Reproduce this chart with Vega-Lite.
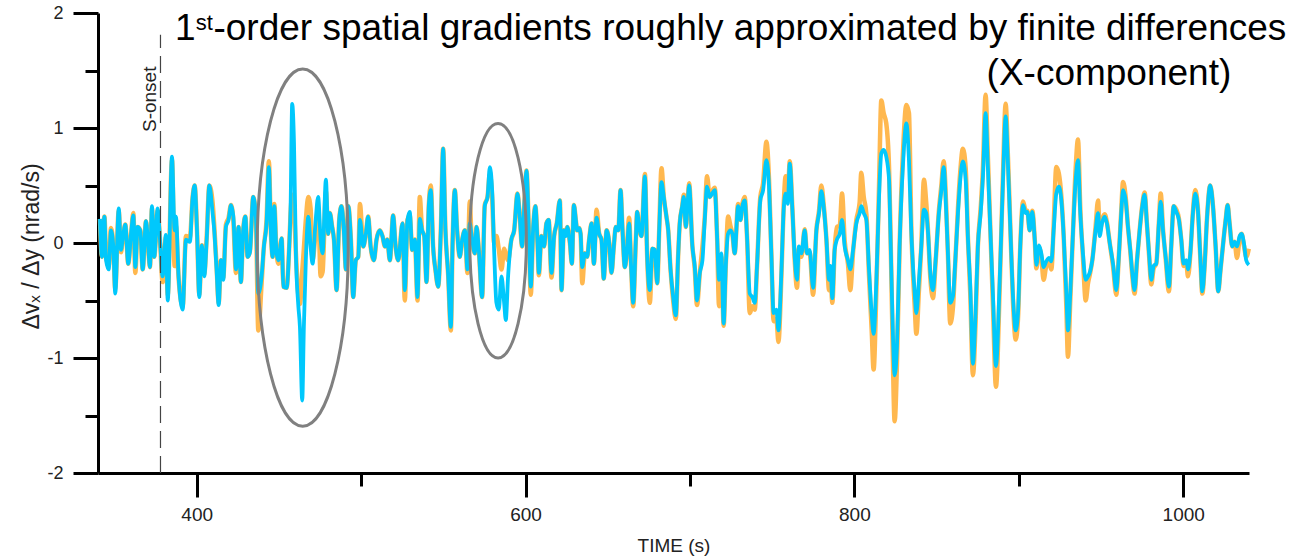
{
  "$schema": "https://vega.github.io/schema/vega-lite/v6.json",
  "width": 1151,
  "height": 460,
  "autosize": {"type": "none"},
  "padding": {"left": 98, "top": 13, "right": 62, "bottom": 84},
  "background": "white",
  "config": {"view": {"stroke": null}, "font": "Liberation Sans", "axis": {"grid": false}},
  "resolve": {"axis": {"x": "independent", "y": "independent"}},
  "datasets": {
    "signal": [
      {"t":341.2,"orange":0.21,"blue":0.21},{"t":342.4,"orange":-0.12,"blue":-0.12},{"t":343.9,"orange":0.23,"blue":0.23},{"t":344.9,"orange":-0.10,"blue":-0.15},{"t":346.5,"orange":-0.20,"blue":-0.23},{"t":347.9,"orange":0.13,"blue":0.11},{"t":349.3,"orange":-0.03,"blue":-0.03},{"t":350.5,"orange":-0.40,"blue":-0.44},{"t":352.6,"orange":0.28,"blue":0.30},{"t":354.0,"orange":-0.08,"blue":-0.06},{"t":355.0,"orange":0.03,"blue":0.03},{"t":356.6,"orange":0.16,"blue":0.16},{"t":358.4,"orange":-0.18,"blue":-0.18},{"t":360.1,"orange":0.08,"blue":0.08},{"t":361.5,"orange":0.26,"blue":0.24},{"t":362.7,"orange":-0.26,"blue":-0.21},{"t":364.1,"orange":0.14,"blue":0.14},{"t":365.7,"orange":0.11,"blue":0.11},{"t":367.2,"orange":-0.23,"blue":-0.23},{"t":369.2,"orange":0.19,"blue":0.19},{"t":370.4,"orange":0.0,"blue":0.0},{"t":371.6,"orange":-0.21,"blue":-0.21},{"t":372.8,"orange":0.30,"blue":0.32},{"t":374.2,"orange":-0.12,"blue":-0.12},{"t":376.3,"orange":0.28,"blue":0.30},{"t":377.7,"orange":0.03,"blue":0.03},{"t":379.3,"orange":-0.34,"blue":-0.29},{"t":381.3,"orange":0.05,"blue":0.07},{"t":382.4,"orange":-0.45,"blue":-0.50},{"t":385.0,"orange":0.72,"blue":0.75},{"t":386.6,"orange":-0.20,"blue":0.11},{"t":387.4,"orange":0.15,"blue":0.23},{"t":389.0,"orange":-0.30,"blue":-0.29},{"t":391.5,"orange":-0.55,"blue":-0.58},{"t":393.5,"orange":0.06,"blue":0.03},{"t":395.9,"orange":0.05,"blue":0.01},{"t":397.5,"orange":0.39,"blue":0.39},{"t":398.8,"orange":0.50,"blue":0.50},{"t":400.2,"orange":0.11,"blue":0.11},{"t":401.6,"orange":-0.45,"blue":-0.47},{"t":403.2,"orange":-0.02,"blue":-0.02},{"t":404.6,"orange":-0.27,"blue":-0.29},{"t":406.1,"orange":0.05,"blue":0.03},{"t":407.7,"orange":0.50,"blue":0.50},{"t":409.7,"orange":0.35,"blue":0.26},{"t":410.7,"orange":0.15,"blue":0.11},{"t":412.1,"orange":-0.20,"blue":-0.23},{"t":413.4,"orange":-0.52,"blue":-0.54},{"t":414.8,"orange":-0.15,"blue":-0.15},{"t":416.2,"orange":-0.30,"blue":-0.32},{"t":417.8,"orange":0.16,"blue":0.14},{"t":419.4,"orange":0.22,"blue":0.20},{"t":420.9,"orange":0.33,"blue":0.33},{"t":422.3,"orange":0.20,"blue":0.23},{"t":423.9,"orange":-0.26,"blue":-0.23},{"t":425.5,"orange":0.14,"blue":0.14},{"t":426.9,"orange":-0.34,"blue":-0.34},{"t":428.3,"orange":0.11,"blue":0.11},{"t":429.6,"orange":0.23,"blue":0.23},{"t":431.0,"orange":-0.12,"blue":-0.12},{"t":432.4,"orange":-0.07,"blue":-0.08},{"t":434.4,"orange":0.40,"blue":0.40},
      {"t":436.0,"orange":0.23,"blue":0.23},{"t":437.5,"orange":-0.76,"blue":-0.44},{"t":439.5,"orange":-0.35,"blue":-0.29},{"t":440.9,"orange":-0.03,"blue":-0.03},{"t":442.5,"orange":0.20,"blue":0.17},{"t":443.9,"orange":0.71,"blue":0.66},{"t":445.2,"orange":0.08,"blue":0.08},{"t":446.2,"orange":-0.12,"blue":-0.12},{"t":447.2,"orange":0.34,"blue":0.32},{"t":448.6,"orange":-0.09,"blue":-0.09},{"t":449.8,"orange":-0.18,"blue":-0.15},{"t":451.7,"orange":0.04,"blue":0.04},{"t":452.7,"orange":-0.38,"blue":-0.38},{"t":454.7,"orange":-0.39,"blue":-0.39},{"t":456.3,"orange":-0.03,"blue":-0.03},{"t":457.1,"orange":0.25,"blue":0.29},{"t":458.1,"orange":0.42,"blue":1.21},{"t":459.2,"orange":0.30,"blue":0.87},{"t":460.4,"orange":-0.10,"blue":-0.12},{"t":461.8,"orange":-0.45,"blue":-0.54},{"t":462.8,"orange":-0.53,"blue":-0.73},{"t":464.2,"orange":-0.25,"blue":-1.37},{"t":465.2,"orange":-0.05,"blue":-0.73},{"t":466.4,"orange":0.20,"blue":-0.15},{"t":467.9,"orange":0.40,"blue":0.23},{"t":469.3,"orange":0.30,"blue":-0.03},{"t":470.5,"orange":-0.15,"blue":-0.18},{"t":472.1,"orange":0.05,"blue":0.14},{"t":473.9,"orange":0.30,"blue":0.40},{"t":475.4,"orange":-0.29,"blue":0.03},{"t":476.6,"orange":-0.25,"blue":-0.09},{"t":478.6,"orange":0.45,"blue":0.55},{"t":480.0,"orange":0.08,"blue":0.08},{"t":481.0,"orange":0.26,"blue":0.26},{"t":482.4,"orange":0.14,"blue":0.14},{"t":483.5,"orange":0.03,"blue":0.03},{"t":485.1,"orange":-0.41,"blue":-0.41},{"t":486.7,"orange":0.20,"blue":0.20},{"t":488.1,"orange":0.32,"blue":0.32},{"t":489.5,"orange":0.11,"blue":0.11},{"t":490.8,"orange":-0.23,"blue":-0.23},{"t":492.2,"orange":0.32,"blue":0.32},{"t":493.8,"orange":0.03,"blue":0.03},{"t":495.2,"orange":-0.47,"blue":-0.47},{"t":496.8,"orange":-0.15,"blue":-0.15},{"t":498.3,"orange":-0.12,"blue":-0.12},{"t":499.3,"orange":0.34,"blue":0.20},{"t":501.3,"orange":-0.03,"blue":-0.03},{"t":502.9,"orange":0.08,"blue":0.08},{"t":504.3,"orange":0.23,"blue":0.23},{"t":505.8,"orange":-0.03,"blue":-0.03},{"t":507.8,"orange":-0.15,"blue":-0.15},{"t":509.4,"orange":0.03,"blue":0.03},{"t":511.4,"orange":0.11,"blue":0.11},{"t":513.0,"orange":0.06,"blue":0.06},{"t":514.5,"orange":-0.03,"blue":-0.03},{"t":515.9,"orange":0.03,"blue":0.03},{"t":517.5,"orange":-0.15,"blue":-0.15},{"t":519.5,"orange":0.24,"blue":0.24},{"t":521.0,"orange":-0.03,"blue":-0.03},{"t":522.6,"orange":-0.15,"blue":-0.15},{"t":525.2,"orange":0.17,"blue":0.17},{"t":526.6,"orange":-0.50,"blue":-0.41},
      {"t":528.2,"orange":0.20,"blue":0.20},{"t":529.6,"orange":0.24,"blue":0.27},{"t":531.1,"orange":-0.06,"blue":-0.06},{"t":532.7,"orange":0.03,"blue":0.03},{"t":534.3,"orange":-0.50,"blue":-0.47},{"t":535.7,"orange":0.40,"blue":0.21},{"t":537.1,"orange":0.11,"blue":0.11},{"t":538.4,"orange":0.06,"blue":0.06},{"t":539.8,"orange":-0.34,"blue":-0.34},{"t":541.2,"orange":0.33,"blue":0.33},{"t":542.4,"orange":0.50,"blue":0.46},{"t":543.8,"orange":-0.03,"blue":-0.03},{"t":545.2,"orange":-0.23,"blue":-0.23},{"t":546.9,"orange":-0.38,"blue":-0.38},{"t":548.5,"orange":0.11,"blue":0.11},{"t":549.9,"orange":0.82,"blue":0.82},{"t":551.3,"orange":0.11,"blue":0.11},{"t":552.9,"orange":-0.26,"blue":-0.26},{"t":554.6,"orange":-0.76,"blue":-0.73},{"t":555.6,"orange":-0.03,"blue":-0.03},{"t":557.0,"orange":0.46,"blue":0.46},{"t":558.4,"orange":0.11,"blue":0.11},{"t":560.0,"orange":-0.12,"blue":-0.12},{"t":561.5,"orange":0.03,"blue":0.03},{"t":563.1,"orange":0.11,"blue":0.11},{"t":564.7,"orange":-0.26,"blue":-0.23},{"t":566.1,"orange":0.36,"blue":0.17},{"t":567.1,"orange":0.08,"blue":0.08},{"t":569.2,"orange":-0.09,"blue":-0.09},{"t":570.2,"orange":0.14,"blue":0.14},{"t":571.6,"orange":-0.06,"blue":-0.06},{"t":573.6,"orange":-0.47,"blue":-0.47},{"t":575.2,"orange":0.33,"blue":0.32},{"t":576.9,"orange":0.40,"blue":0.40},{"t":578.3,"orange":0.60,"blue":0.66},{"t":579.7,"orange":0.40,"blue":0.46},{"t":580.9,"orange":0.0,"blue":-0.06},{"t":582.3,"orange":0.06,"blue":-0.52},{"t":583.7,"orange":-0.05,"blue":-0.58},{"t":585.4,"orange":-0.23,"blue":-0.29},{"t":587.0,"orange":-0.05,"blue":-0.52},{"t":588.0,"orange":-0.10,"blue":-0.67},{"t":589.4,"orange":-0.15,"blue":-0.29},{"t":591.4,"orange":0.03,"blue":0.03},{"t":593.1,"orange":0.11,"blue":0.11},{"t":595.1,"orange":0.43,"blue":0.43},{"t":596.5,"orange":0.23,"blue":0.23},{"t":597.9,"orange":-0.03,"blue":-0.03},{"t":599.5,"orange":0.40,"blue":0.40},{"t":600.6,"orange":0.63,"blue":0.63},{"t":602.0,"orange":0.11,"blue":0.11},{"t":603.2,"orange":-0.45,"blue":-0.38},{"t":604.6,"orange":0.11,"blue":0.11},{"t":606.0,"orange":0.32,"blue":0.32},{"t":607.3,"orange":0.0,"blue":0.0},{"t":608.1,"orange":-0.28,"blue":-0.26},{"t":609.7,"orange":0.06,"blue":0.06},{"t":611.3,"orange":-0.03,"blue":-0.03},{"t":612.7,"orange":0.17,"blue":0.17},{"t":614.1,"orange":0.20,"blue":0.20},{"t":615.8,"orange":-0.30,"blue":-0.26},{"t":617.4,"orange":0.06,"blue":0.06},{"t":619.0,"orange":0.17,"blue":0.17},{"t":620.9,"orange":0.37,"blue":0.37},
      {"t":621.9,"orange":-0.41,"blue":-0.41},{"t":623.3,"orange":0.11,"blue":0.11},{"t":624.5,"orange":0.10,"blue":0.06},{"t":625.4,"orange":0.14,"blue":0.14},{"t":627.0,"orange":0.0,"blue":0.0},{"t":628.2,"orange":-0.18,"blue":-0.18},{"t":629.4,"orange":0.33,"blue":0.33},{"t":630.6,"orange":0.20,"blue":0.20},{"t":631.4,"orange":0.11,"blue":0.11},{"t":632.7,"orange":0.13,"blue":0.13},{"t":633.5,"orange":0.08,"blue":0.08},{"t":634.5,"orange":-0.35,"blue":-0.21},{"t":636.1,"orange":-0.09,"blue":-0.09},{"t":637.5,"orange":-0.12,"blue":-0.12},{"t":638.7,"orange":0.03,"blue":0.03},{"t":640.2,"orange":0.17,"blue":0.17},{"t":641.6,"orange":-0.18,"blue":-0.18},{"t":643.2,"orange":0.29,"blue":0.22},{"t":644.8,"orange":0.08,"blue":0.08},{"t":646.2,"orange":0.03,"blue":0.03},{"t":647.6,"orange":-0.31,"blue":-0.31},{"t":649.3,"orange":0.11,"blue":0.11},{"t":650.9,"orange":0.0,"blue":0.0},{"t":652.3,"orange":-0.26,"blue":-0.26},{"t":653.7,"orange":-0.03,"blue":-0.03},{"t":654.9,"orange":0.14,"blue":0.14},{"t":656.4,"orange":0.11,"blue":0.11},{"t":657.8,"orange":0.46,"blue":0.46},{"t":659.0,"orange":0.11,"blue":0.11},{"t":660.4,"orange":-0.21,"blue":-0.21},{"t":661.4,"orange":-0.12,"blue":-0.12},{"t":663.0,"orange":0.22,"blue":0.17},{"t":664.3,"orange":-0.23,"blue":-0.23},{"t":665.5,"orange":-0.55,"blue":-0.52},{"t":667.1,"orange":0.03,"blue":0.03},{"t":667.9,"orange":0.27,"blue":0.27},{"t":669.1,"orange":0.14,"blue":0.14},{"t":670.5,"orange":0.06,"blue":0.06},{"t":672.6,"orange":0.60,"blue":0.58},{"t":674.0,"orange":-0.12,"blue":-0.12},{"t":675.6,"orange":-0.52,"blue":-0.41},{"t":677.2,"orange":-0.05,"blue":-0.05},{"t":678.6,"orange":-0.06,"blue":-0.06},{"t":680.1,"orange":-0.35,"blue":-0.35},{"t":681.3,"orange":0.11,"blue":0.11},{"t":682.7,"orange":0.65,"blue":0.53},{"t":684.1,"orange":0.40,"blue":0.40},{"t":685.7,"orange":0.23,"blue":0.23},{"t":686.8,"orange":0.11,"blue":0.11},{"t":688.2,"orange":-0.23,"blue":-0.23},{"t":689.8,"orange":-0.50,"blue":-0.47},{"t":691.4,"orange":-0.66,"blue":-0.63},{"t":692.8,"orange":-0.12,"blue":-0.12},{"t":693.8,"orange":0.17,"blue":0.17},{"t":695.3,"orange":0.32,"blue":0.32},{"t":696.3,"orange":0.42,"blue":0.40},{"t":697.5,"orange":0.14,"blue":0.14},{"t":698.5,"orange":0.32,"blue":0.32},{"t":699.5,"orange":0.52,"blue":0.50},
      {"t":701.5,"orange":-0.03,"blue":-0.03},{"t":702.9,"orange":-0.22,"blue":-0.20},{"t":704.3,"orange":-0.54,"blue":-0.50},{"t":706.0,"orange":-0.26,"blue":-0.26},{"t":707.6,"orange":-0.03,"blue":-0.15},{"t":709.0,"orange":0.22,"blue":0.20},{"t":710.4,"orange":0.58,"blue":0.49},{"t":712.0,"orange":0.40,"blue":0.40},{"t":713.5,"orange":0.45,"blue":0.43},{"t":715.1,"orange":0.48,"blue":0.46},{"t":716.5,"orange":0.06,"blue":0.06},{"t":717.7,"orange":-0.55,"blue":-0.32},{"t":719.1,"orange":-0.12,"blue":-0.09},{"t":720.5,"orange":-0.72,"blue":-0.70},{"t":721.8,"orange":-0.20,"blue":-0.20},{"t":723.2,"orange":0.23,"blue":0.08},{"t":724.6,"orange":0.15,"blue":0.11},{"t":725.8,"orange":0.08,"blue":0.08},{"t":727.2,"orange":-0.09,"blue":-0.09},{"t":729.3,"orange":0.34,"blue":0.32},{"t":730.7,"orange":0.20,"blue":0.20},{"t":731.9,"orange":0.34,"blue":0.32},{"t":733.3,"orange":0.40,"blue":0.37},{"t":734.7,"orange":0.06,"blue":0.06},{"t":736.4,"orange":-0.61,"blue":-0.44},{"t":738.0,"orange":-0.55,"blue":-0.47},{"t":739.4,"orange":-0.58,"blue":-0.52},{"t":740.8,"orange":-0.20,"blue":-0.20},{"t":742.8,"orange":0.40,"blue":0.37},{"t":744.5,"orange":0.52,"blue":0.46},{"t":746.5,"orange":0.88,"blue":0.72},{"t":748.1,"orange":0.55,"blue":0.49},{"t":749.5,"orange":-0.09,"blue":-0.09},{"t":750.9,"orange":-0.68,"blue":-0.61},{"t":752.6,"orange":-0.66,"blue":-0.58},{"t":753.8,"orange":-0.86,"blue":-0.76},{"t":755.6,"orange":-0.30,"blue":-0.26},{"t":757.0,"orange":0.32,"blue":0.29},{"t":758.2,"orange":0.58,"blue":0.43},{"t":759.5,"orange":0.40,"blue":0.34},{"t":760.7,"orange":0.71,"blue":0.69},{"t":762.3,"orange":0.30,"blue":0.29},{"t":763.7,"orange":-0.14,"blue":-0.12},{"t":765.1,"orange":-0.39,"blue":-0.32},{"t":766.3,"orange":-0.05,"blue":-0.03},{"t":767.8,"orange":-0.12,"blue":-0.09},{"t":769.8,"orange":0.12,"blue":0.11},{"t":771.2,"orange":-0.09,"blue":-0.09},{"t":772.8,"orange":-0.08,"blue":-0.06},{"t":774.9,"orange":-0.45,"blue":-0.39},{"t":776.9,"orange":0.11,"blue":0.11},{"t":778.5,"orange":0.28,"blue":0.26},{"t":779.9,"orange":0.50,"blue":0.45},{"t":781.3,"orange":0.34,"blue":0.32},{"t":783.0,"orange":0.03,"blue":0.03},{"t":784.6,"orange":-0.41,"blue":-0.32},{"t":785.4,"orange":-0.25,"blue":-0.20},{"t":786.6,"orange":-0.52,"blue":-0.48},{"t":788.0,"orange":-0.06,"blue":-0.06},{"t":789.4,"orange":0.14,"blue":0.03},{"t":791.1,"orange":0.15,"blue":0.08},{"t":792.5,"orange":0.43,"blue":0.20},{"t":794.1,"orange":0.02,"blue":-0.03},{"t":796.1,"orange":-0.18,"blue":-0.15},{"t":797.5,"orange":-0.41,"blue":-0.23},{"t":799.2,"orange":-0.08,"blue":-0.06},{"t":801.2,"orange":0.20,"blue":0.17},{"t":803.2,"orange":0.35,"blue":0.26},{"t":804.2,"orange":0.61,"blue":0.32},{"t":805.7,"orange":0.40,"blue":0.26},{"t":807.3,"orange":0.25,"blue":0.20},{"t":808.9,"orange":-0.28,"blue":-0.23},{"t":810.5,"orange":-0.75,"blue":-0.61},{"t":811.7,"orange":-1.10,"blue":-0.79},{"t":813.4,"orange":-0.40,"blue":-0.32},{"t":815.0,"orange":0.50,"blue":0.40},{"t":816.4,"orange":1.24,"blue":0.78},{"t":817.8,"orange":1.13,"blue":0.81},{"t":819.4,"orange":1.04,"blue":0.75},{"t":821.1,"orange":0.65,"blue":0.55},{"t":821.9,"orange":0.15,"blue":0.11},{"t":823.1,"orange":-0.75,"blue":-0.61},{"t":824.5,"orange":-1.55,"blue":-1.15},{"t":825.9,"orange":-1.05,"blue":-0.90},{"t":827.5,"orange":-0.03,"blue":-0.03},{"t":829.6,"orange":0.80,"blue":0.69},{"t":831.6,"orange":1.20,"blue":1.04},{"t":833.2,"orange":1.13,"blue":0.72},{"t":834.6,"orange":0.15,"blue":0.11},{"t":836.7,"orange":-0.55,"blue":-0.44},{"t":837.7,"orange":-0.79,"blue":-0.61},{"t":839.3,"orange":-0.40,"blue":-0.32},{"t":840.7,"orange":-0.03,"blue":-0.03},{"t":842.3,"orange":0.55,"blue":0.29},{"t":843.7,"orange":0.35,"blue":0.26},{"t":844.8,"orange":0.10,"blue":0.09},{"t":846.2,"orange":-0.30,"blue":-0.26},{"t":847.8,"orange":-0.48,"blue":-0.41},{"t":849.4,"orange":-0.17,"blue":-0.15},{"t":851.4,"orange":0.28,"blue":0.26},{"t":852.9,"orange":0.50,"blue":0.46},{"t":854.3,"orange":0.71,"blue":0.66},{"t":855.9,"orange":0.30,"blue":0.26},{"t":856.9,"orange":-0.10,"blue":-0.09},{"t":858.3,"orange":-0.70,"blue":-0.52},{"t":860.0,"orange":-0.55,"blue":-0.46},{"t":861.2,"orange":-0.22,"blue":-0.20},{"t":863.0,"orange":0.30,"blue":0.26},{"t":864.4,"orange":0.62,"blue":0.55},{"t":866.0,"orange":0.82,"blue":0.71},{"t":867.7,"orange":0.65,"blue":0.55},{"t":869.1,"orange":0.03,"blue":0.03},{"t":870.5,"orange":-0.45,"blue":-0.38},{"t":872.1,"orange":-1.15,"blue":-1.05},{"t":873.7,"orange":-0.70,"blue":-0.61},{"t":875.1,"orange":-0.03,"blue":-0.03},{"t":876.8,"orange":0.30,"blue":0.26},{"t":878.2,"orange":0.65,"blue":0.58},{"t":879.8,"orange":1.29,"blue":1.13},{"t":881.2,"orange":0.75,"blue":0.66},{"t":882.7,"orange":0.12,"blue":0.11},{"t":884.3,"orange":-0.55,"blue":-0.46},{"t":886.1,"orange":-1.25,"blue":-1.07},{"t":888.4,"orange":-0.38,"blue":-0.32},{"t":890.4,"orange":0.60,"blue":0.55},{"t":892.0,"orange":1.21,"blue":1.10},{"t":893.4,"orange":0.75,"blue":0.69},{"t":894.9,"orange":0.12,"blue":0.11},{"t":896.5,"orange":-0.52,"blue":-0.47},{"t":898.1,"orange":-0.84,"blue":-0.76},{"t":899.5,"orange":-0.66,"blue":-0.61},{"t":900.9,"orange":-0.03,"blue":-0.03},{"t":902.6,"orange":0.36,"blue":0.33},{"t":904.2,"orange":0.28,"blue":0.26},{"t":905.2,"orange":0.28,"blue":0.27},{"t":906.6,"orange":0.11,"blue":0.11},{"t":908.2,"orange":0.28,"blue":0.27},{"t":909.7,"orange":0.03,"blue":0.03},{"t":910.7,"orange":-0.22,"blue":-0.19},{"t":912.3,"orange":-0.04,"blue":-0.02},{"t":913.7,"orange":-0.12,"blue":-0.09},{"t":915.1,"orange":-0.32,"blue":-0.21},{"t":916.7,"orange":-0.20,"blue":-0.16},{"t":918.4,"orange":-0.17,"blue":-0.13},{"t":919.8,"orange":-0.23,"blue":-0.16},{"t":921.2,"orange":0.15,"blue":0.11},{"t":922.8,"orange":0.66,"blue":0.43},{"t":924.4,"orange":0.60,"blue":0.49},{"t":925.9,"orange":0.40,"blue":0.37},{"t":927.3,"orange":0.06,"blue":0.06},{"t":928.9,"orange":-0.55,"blue":-0.44},{"t":929.9,"orange":-0.99,"blue":-0.76},{"t":931.3,"orange":-0.50,"blue":-0.44},{"t":933.0,"orange":0.11,"blue":0.11},{"t":934.6,"orange":0.65,"blue":0.55},{"t":936.0,"orange":0.90,"blue":0.72},{"t":937.4,"orange":0.30,"blue":0.26},{"t":939.0,"orange":-0.12,"blue":-0.09},{"t":940.7,"orange":-0.50,"blue":-0.32},{"t":942.1,"orange":-0.35,"blue":-0.29},{"t":943.1,"orange":-0.28,"blue":-0.26},{"t":944.7,"orange":-0.15,"blue":-0.15},{"t":946.7,"orange":0.14,"blue":0.11},{"t":948.2,"orange":0.37,"blue":0.26},{"t":949.2,"orange":0.10,"blue":0.06},{"t":950.6,"orange":0.20,"blue":0.17},{"t":952.2,"orange":0.25,"blue":0.23},{"t":953.6,"orange":0.18,"blue":0.17},{"t":955.3,"orange":0.0,"blue":0.0},{"t":957.3,"orange":-0.20,"blue":-0.18},{"t":959.3,"orange":-0.45,"blue":-0.41},{"t":960.7,"orange":-0.15,"blue":-0.15},{"t":962.3,"orange":0.28,"blue":0.26},{"t":963.4,"orange":0.53,"blue":0.46},{"t":965.0,"orange":0.40,"blue":0.37},{"t":966.4,"orange":0.14,"blue":0.14},{"t":967.8,"orange":-0.07,"blue":-0.06},{"t":969.0,"orange":-0.28,"blue":-0.26},{"t":970.4,"orange":-0.44,"blue":-0.41},{"t":971.9,"orange":-0.15,"blue":-0.15},{"t":973.5,"orange":0.11,"blue":0.11},{"t":975.1,"orange":0.33,"blue":0.32},{"t":976.5,"orange":0.44,"blue":0.42},{"t":977.9,"orange":0.17,"blue":0.17},{"t":979.2,"orange":-0.10,"blue":-0.09},{"t":980.6,"orange":-0.36,"blue":-0.32},{"t":982.0,"orange":-0.22,"blue":-0.20},{"t":983.6,"orange":-0.18,"blue":-0.18},{"t":985.2,"orange":0.18,"blue":0.17},{"t":986.3,"orange":0.43,"blue":0.36},{"t":987.7,"orange":0.12,"blue":0.11},{"t":989.3,"orange":-0.13,"blue":-0.12},{"t":991.3,"orange":-0.42,"blue":-0.38},{"t":992.7,"orange":-0.03,"blue":-0.03},{"t":994.2,"orange":0.32,"blue":0.32},{"t":995.8,"orange":0.29,"blue":0.27},{"t":997.4,"orange":0.21,"blue":0.20},{"t":998.8,"orange":0.03,"blue":0.03},{"t":1000.2,"orange":-0.20,"blue":-0.18},{"t":1001.9,"orange":-0.18,"blue":-0.15},{"t":1002.9,"orange":-0.29,"blue":-0.23},{"t":1004.3,"orange":-0.10,"blue":-0.09},{"t":1005.9,"orange":0.27,"blue":0.26},{"t":1007.3,"orange":0.46,"blue":0.43},{"t":1008.9,"orange":0.30,"blue":0.29},{"t":1010.4,"orange":-0.13,"blue":-0.12},{"t":1011.6,"orange":-0.44,"blue":-0.42},{"t":1013.0,"orange":-0.20,"blue":-0.20},{"t":1014.4,"orange":0.20,"blue":0.20},{"t":1016.4,"orange":0.50,"blue":0.50},{"t":1018.1,"orange":0.32,"blue":0.32},{"t":1019.7,"orange":-0.03,"blue":-0.03},{"t":1021.3,"orange":-0.42,"blue":-0.42},{"t":1022.7,"orange":-0.23,"blue":-0.23},{"t":1024.1,"orange":-0.03,"blue":-0.03},{"t":1025.8,"orange":0.20,"blue":0.20},{"t":1027.0,"orange":0.33,"blue":0.33},{"t":1028.2,"orange":0.17,"blue":0.17},{"t":1029.8,"orange":-0.03,"blue":-0.03},{"t":1031.2,"orange":0.01,"blue":0.01},{"t":1032.7,"orange":-0.13,"blue":-0.03},{"t":1034.3,"orange":0.04,"blue":0.06},{"t":1035.5,"orange":0.08,"blue":0.08},{"t":1036.9,"orange":-0.02,"blue":0.0},{"t":1038.3,"orange":-0.12,"blue":-0.15},{"t":1039.9,"orange":-0.05,"blue":-0.19}
    ]
  },
  "layer": [
    {
      "data": {"name": "signal"},
      "mark": {"type": "line", "color": "#ffb84f", "strokeWidth": 4.5, "interpolate": "monotone"},
      "encoding": {
        "x": {"field": "t", "type": "quantitative", "scale": {"domain": [340, 1040], "nice": false, "zero": false},
          "axis": {"orient": "bottom", "values": [400, 600, 800, 1000], "labelExpr": "'' + datum.value", "tickSize": 24, "tickWidth": 3, "tickColor": "black", "domainWidth": 3, "domainColor": "black", "labelFontSize": 19, "labelColor": "#222222", "labelFont": "Liberation Sans", "labelPadding": 8, "labelFlush": false, "title": "TIME (s)", "titleFont": "Liberation Sans", "titleFontSize": 19, "titleFontWeight": "normal", "titleColor": "#222222", "titleY": 72, "titleBaseline": "middle"}},
        "y": {"field": "orange", "type": "quantitative", "scale": {"domain": [-2, 2], "nice": false, "zero": false},
          "axis": {"orient": "left", "values": [-2, -1, 0, 1, 2], "labelExpr": "'' + datum.value", "tickSize": 25, "tickWidth": 3, "tickColor": "black", "domainWidth": 3, "domainColor": "black", "labelFontSize": 18, "labelColor": "#222222", "labelFont": "Liberation Sans", "labelPadding": 10, "title": "Δvₓ / Δy  (nrad/s)", "titleFont": "Liberation Sans", "titleFontSize": 23, "titleFontWeight": "normal", "titleColor": "#222222", "titleX": -67, "titleY": 233, "titleBaseline": "middle"}}
      }
    },
    {
      "data": {"name": "signal"},
      "mark": {"type": "line", "color": "#00c8fc", "strokeWidth": 3.8, "interpolate": "monotone"},
      "encoding": {
        "x": {"field": "t", "type": "quantitative", "scale": {"domain": [340, 1040], "nice": false, "zero": false}, "axis": null},
        "y": {"field": "blue", "type": "quantitative", "scale": {"domain": [-2, 2], "nice": false, "zero": false}, "axis": null}
      }
    },
    {
      "data": {"values": [{"t": 464.5, "v": -0.04}]},
      "mark": {"type": "point", "shape": "M0,-1C0.1406,-1,0.2546,-0.5523,0.2546,0C0.2546,0.5523,0.1406,1,0,1C-0.1406,1,-0.2546,0.5523,-0.2546,0C-0.2546,-0.5523,-0.1406,-1,0,-1Z", "size": 127735, "filled": false, "stroke": "#808080", "strokeWidth": 3, "opacity": 1},
      "encoding": {
        "x": {"field": "t", "type": "quantitative", "scale": {"domain": [340, 1040], "nice": false, "zero": false},
          "axis": {"orient": "bottom", "values": [500, 700, 900], "labels": false, "domain": false, "tickSize": 13, "tickWidth": 3, "tickColor": "black", "title": null}},
        "y": {"field": "v", "type": "quantitative", "scale": {"domain": [-2, 2], "nice": false, "zero": false},
          "axis": {"orient": "left", "values": [-1.5, -0.5, 0.5, 1.5], "labels": false, "domain": false, "tickSize": 13, "tickWidth": 3, "tickColor": "black", "title": null}}
      }
    },
    {
      "data": {"values": [{"t": 583.3, "v": 0.02}]},
      "mark": {"type": "point", "shape": "M0,-1C0.1333,-1,0.2413,-0.5523,0.2413,0C0.2413,0.5523,0.1333,1,0,1C-0.1333,1,-0.2413,0.5523,-0.2413,0C-0.2413,-0.5523,-0.1333,-1,0,-1Z", "size": 55037, "filled": false, "stroke": "#808080", "strokeWidth": 3, "opacity": 1},
      "encoding": {
        "x": {"field": "t", "type": "quantitative", "axis": null},
        "y": {"field": "v", "type": "quantitative", "axis": null}
      }
    },
    {
      "data": {"values": [{}]},
      "mark": {"type": "rule", "stroke": "#444444", "strokeWidth": 1.2, "strokeDash": [17, 8]},
      "encoding": {
        "x": {"datum": 378, "type": "quantitative", "axis": null},
        "y": {"datum": -2, "type": "quantitative", "axis": null},
        "y2": {"datum": 1.81}
      }
    },
    {
      "data": {"values": [{}]},
      "mark": {"type": "text", "text": "S-onset", "angle": 270, "align": "left", "baseline": "bottom", "font": "Liberation Sans", "fontSize": 19, "color": "#222222"},
      "encoding": {
        "x": {"datum": 378, "type": "quantitative", "axis": null},
        "y": {"datum": 0.965, "type": "quantitative", "axis": null}
      }
    },
    {
      "data": {"values": [
        {"t": 386.8, "v": 1.765, "label": "1"},
        {"t": 410.2, "v": 1.765, "label": "-order spatial gradients roughly approximated by finite differences"},
        {"t": 880.4, "v": 1.374, "label": "(X-component)"}
      ]},
      "mark": {"type": "text", "align": "left", "baseline": "alphabetic", "font": "Liberation Sans", "fontSize": 37, "color": "#000000"},
      "encoding": {
        "x": {"field": "t", "type": "quantitative", "axis": null},
        "y": {"field": "v", "type": "quantitative", "axis": null},
        "text": {"field": "label"}
      }
    },
    {
      "data": {"values": [{"t": 399.4, "v": 1.85, "label": "st"}]},
      "mark": {"type": "text", "align": "left", "baseline": "alphabetic", "font": "Liberation Sans", "fontSize": 22, "color": "#000000"},
      "encoding": {
        "x": {"field": "t", "type": "quantitative", "axis": null},
        "y": {"field": "v", "type": "quantitative", "axis": null},
        "text": {"field": "label"}
      }
    }
  ]
}
